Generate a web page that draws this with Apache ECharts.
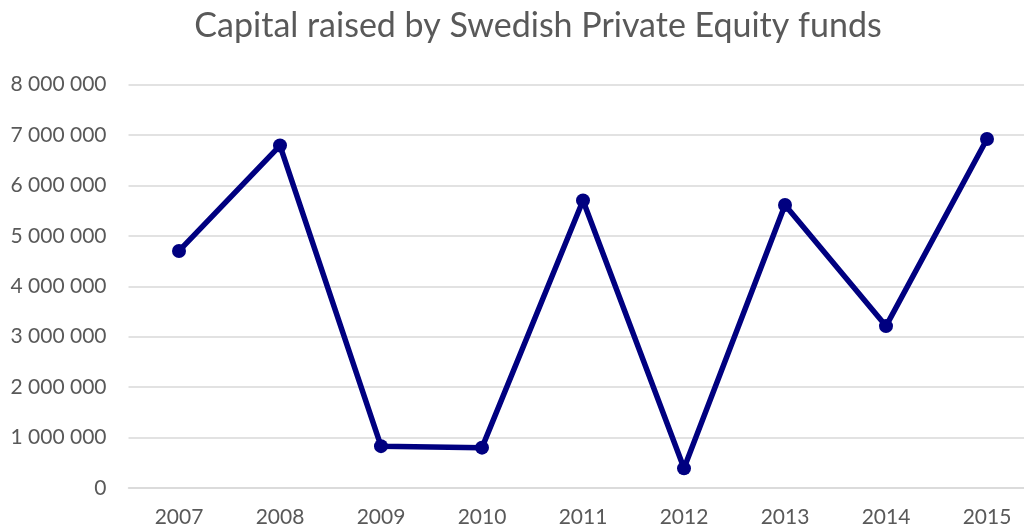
<!DOCTYPE html>
<html><head><meta charset="utf-8">
<script src="https://cdn.jsdelivr.net/npm/echarts@6/dist/echarts.min.js"></script>
<style>html,body{margin:0;padding:0;background:#fff}#c{width:1024px;height:531px}</style>
</head><body><div id="c"></div>
<script>
const years = ['2007','2008','2009','2010','2011','2012','2013','2014','2015'];
const capital = [4700000, 6790000, 830000, 800000, 5700000, 390000, 5610000, 3210000, 6920000];
const titleText = 'Capital raised by Swedish Private Equity funds';

const chart = echarts.init(document.getElementById('c'));
const fmt = v => String(v).replace(/\B(?=(\d{3})+(?!\d))/g, ' ');
chart.setOption({
  animation: false,
  title: {text: titleText, left: 533, textAlign: 'center', top: 4,
    textStyle: {fontFamily: 'Lato', fontSize: 34, fontWeight: 'normal', color: '#595959'}},
  grid: {left: 128.5, width: 909, top: 84.5, height: 403.5, containLabel: false, outerBoundsMode: 'none'},
  xAxis: {type: 'category', data: years, boundaryGap: true,
    axisLine: {show: true, lineStyle: {color: '#d9d9d9', width: 1.5}},
    axisTick: {show: false},
    axisLabel: {color: '#595959', fontFamily: 'Lato', fontSize: 21, margin: 19}},
  yAxis: {type: 'value', min: 0, max: 8000000, interval: 1000000,
    axisLine: {show: false}, axisTick: {show: false},
    splitLine: {lineStyle: {color: '#d9d9d9', width: 1.5}},
    axisLabel: {color: '#595959', fontFamily: 'Lato', fontSize: 21, margin: 22, formatter: fmt}},
  series: [{type: 'line', data: capital, symbol: 'circle', symbolSize: 14,
    lineStyle: {color: '#000080', width: 5.5}, itemStyle: {color: '#000080'}}]
});
</script></body></html>
